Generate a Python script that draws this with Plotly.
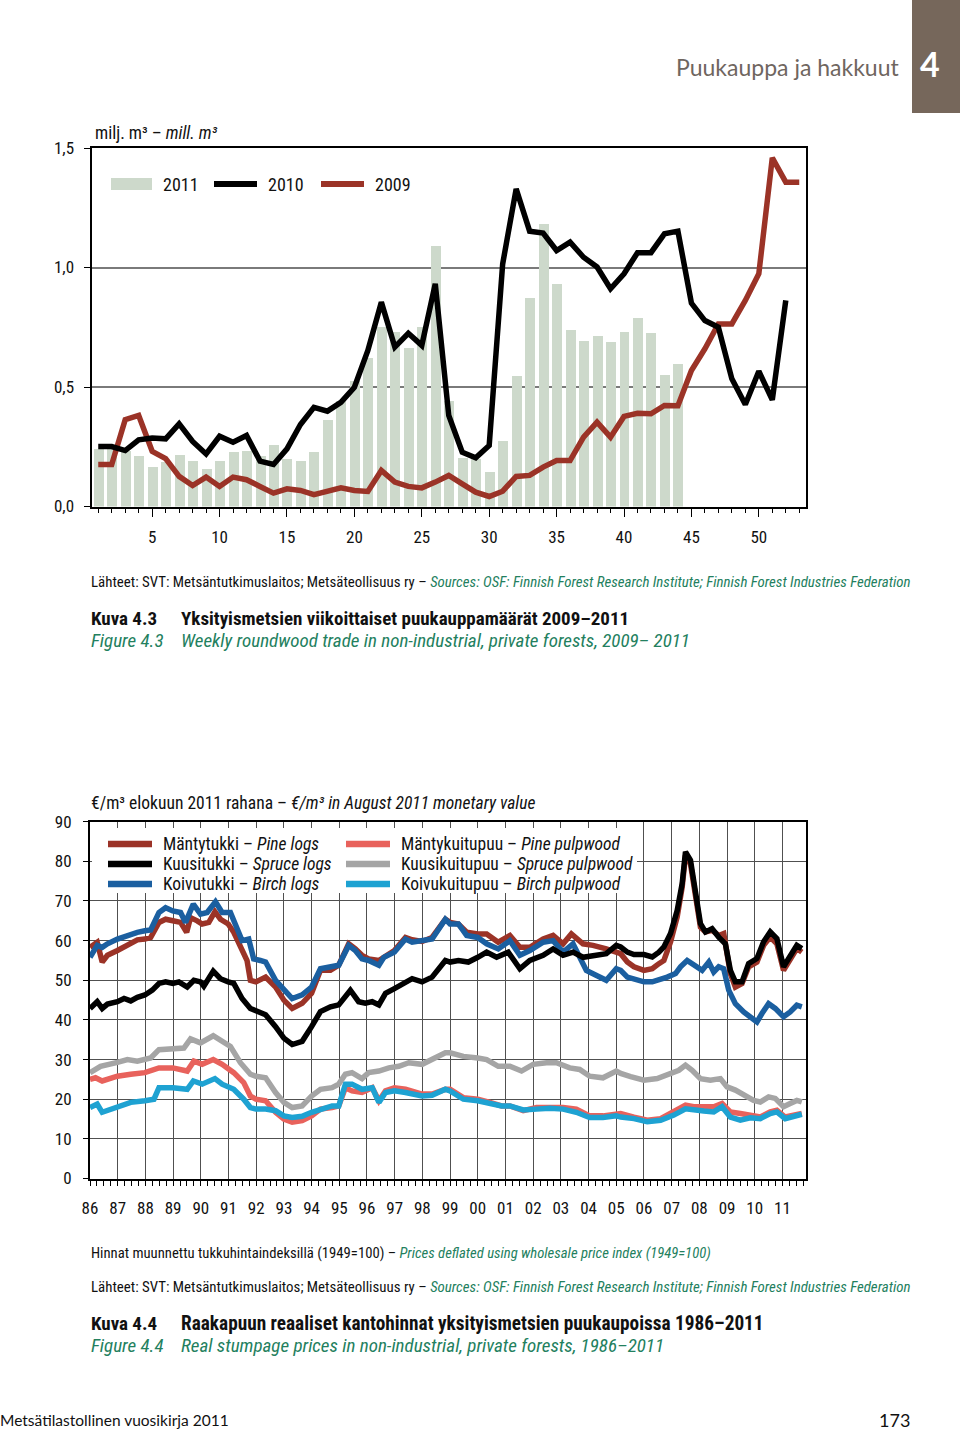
import plotly.graph_objects as go

W, H = 960, 1433


def PX(x):
    return x / W


def PY(y):
    return 1 - y / H


# ---------------- DATA: Figure 4.3 (weekly roundwood trade, mill. m3) ----------------
weeks_2011 = list(range(1, 45))
trade_2011 = [0.241, 0.240, 0.234, 0.210, 0.165, 0.185, 0.216, 0.190, 0.158, 0.192,
              0.227, 0.234, 0.213, 0.259, 0.198, 0.192, 0.226, 0.360, 0.440, 0.527,
              0.620, 0.753, 0.730, 0.662, 0.750, 1.089, 0.443, 0.202, 0.200, 0.144,
              0.276, 0.544, 0.872, 1.180, 0.932, 0.739, 0.692, 0.715, 0.688, 0.730,
              0.790, 0.725, 0.551, 0.597]

weeks_2010 = list(range(1, 53))
trade_2010 = [0.251, 0.251, 0.234, 0.279, 0.287, 0.283, 0.346, 0.272, 0.220, 0.294,
              0.269, 0.297, 0.190, 0.176, 0.241, 0.343, 0.415, 0.399, 0.436, 0.499,
              0.653, 0.855, 0.667, 0.725, 0.674, 0.932, 0.381, 0.227, 0.204, 0.255,
              1.015, 1.329, 1.152, 1.144, 1.071, 1.106, 1.043, 1.002, 0.911, 0.974,
              1.062, 1.062, 1.141, 1.152, 0.851, 0.778, 0.750, 0.534, 0.427, 0.566,
              0.446, 0.862]

weeks_2009 = list(range(1, 54))
trade_2009 = [0.176, 0.176, 0.363, 0.381, 0.231, 0.200, 0.126, 0.088, 0.123, 0.084,
              0.123, 0.112, 0.084, 0.056, 0.074, 0.067, 0.050, 0.063, 0.078, 0.067,
              0.063, 0.151, 0.102, 0.084, 0.078, 0.102, 0.130, 0.095, 0.060, 0.042,
              0.064, 0.126, 0.130, 0.165, 0.192, 0.192, 0.290, 0.353, 0.290, 0.377,
              0.390, 0.388, 0.423, 0.422, 0.569, 0.660, 0.764, 0.764, 0.862, 0.974,
              1.459, 1.357, 1.357]

top_xtick_vals = [5, 10, 15, 20, 25, 30, 35, 40, 45, 50]
top_ytick_vals = [0.0, 0.5, 1.0, 1.5]
top_ytick_text = ["0,0", "0,5", "1,0", "1,5"]

# ---------------- DATA: Figure 4.4 (real stumpage prices, EUR/m3) ----------------
pine_logs = [
    (1986.00, 58.3), (1986.26, 59.6), (1986.44, 54.6), (1986.63, 56.3), (1986.99, 57.5),
    (1987.35, 58.8), (1987.71, 60.2), (1987.98, 60.4), (1988.19, 60.8), (1988.49, 64.6),
    (1988.73, 65.4), (1988.99, 65.0), (1989.27, 64.6), (1989.49, 62.1), (1989.63, 65.8),
    (1989.87, 65.0), (1990.05, 64.2), (1990.29, 64.6), (1990.51, 67.3), (1990.71, 65.4),
    (1990.99, 64.2), (1991.19, 62.1), (1991.43, 58.3), (1991.67, 55.0), (1991.79, 50.0),
    (1991.99, 49.6), (1992.34, 50.8), (1992.70, 48.3), (1993.00, 45.0), (1993.30, 42.9),
    (1993.66, 44.2), (1994.00, 46.7), (1994.32, 52.5), (1994.68, 52.5), (1994.98, 53.8),
    (1995.34, 59.2), (1995.58, 57.9), (1995.82, 56.3), (1996.06, 55.4), (1996.43, 55.0),
    (1996.61, 55.8), (1996.99, 57.5), (1997.39, 60.8), (1997.63, 60.2), (1997.99, 59.8),
    (1998.35, 60.8), (1998.83, 65.4), (1999.00, 64.6), (1999.30, 64.2), (1999.60, 62.1),
    (2000.00, 61.7), (2000.32, 61.7), (2000.74, 59.6), (2001.16, 61.3), (2001.52, 58.3),
    (2001.88, 58.3), (2002.36, 60.4), (2002.72, 61.3), (2003.08, 59.2), (2003.38, 61.7),
    (2003.80, 59.2), (2004.16, 58.8), (2004.64, 57.9), (2005.00, 57.1), (2005.16, 56.7),
    (2005.40, 54.6), (2005.64, 53.4), (2006.00, 52.5), (2006.30, 52.9), (2006.54, 54.2),
    (2006.72, 55.0), (2006.96, 59.7), (2007.20, 66.0), (2007.38, 73.5), (2007.50, 81.5),
    (2007.68, 79.4), (2007.86, 71.8), (2008.04, 63.4), (2008.22, 62.2), (2008.46, 62.6),
    (2008.70, 61.3), (2008.88, 61.8), (2009.12, 51.7), (2009.30, 48.3), (2009.54, 49.2),
    (2009.78, 53.4), (2010.08, 54.6), (2010.32, 58.8), (2010.56, 60.9), (2010.80, 59.2),
    (2011.04, 52.5), (2011.28, 55.0), (2011.52, 58.0), (2011.70, 57.1)]

spruce_logs = [
    (1986.00, 42.9), (1986.26, 44.6), (1986.44, 42.9), (1986.63, 44.0), (1986.99, 44.6),
    (1987.23, 45.4), (1987.47, 44.8), (1987.71, 45.7), (1987.98, 46.3), (1988.25, 47.5),
    (1988.49, 49.2), (1988.73, 49.6), (1988.99, 49.2), (1989.21, 49.6), (1989.51, 48.3),
    (1989.75, 50.0), (1989.99, 49.6), (1990.11, 48.5), (1990.45, 52.3), (1990.71, 50.4),
    (1990.99, 49.6), (1991.19, 49.2), (1991.49, 45.4), (1991.79, 42.9), (1991.99, 42.3),
    (1992.34, 41.3), (1992.70, 38.3), (1993.00, 35.4), (1993.30, 33.8), (1993.66, 34.6),
    (1994.00, 38.3), (1994.32, 42.1), (1994.68, 43.3), (1994.98, 43.8), (1995.40, 47.5),
    (1995.70, 44.6), (1995.94, 44.2), (1996.19, 44.6), (1996.43, 43.8), (1996.67, 46.7),
    (1996.99, 47.9), (1997.39, 49.6), (1997.63, 50.4), (1997.99, 49.6), (1998.35, 50.8),
    (1998.83, 55.0), (1999.00, 54.6), (1999.30, 55.0), (1999.66, 54.6), (2000.00, 55.8),
    (2000.32, 57.1), (2000.68, 55.8), (2001.10, 57.1), (2001.52, 52.9), (2001.88, 55.0),
    (2002.36, 56.3), (2002.72, 57.9), (2003.08, 56.3), (2003.44, 57.1), (2003.80, 55.8),
    (2004.28, 56.3), (2004.64, 56.7), (2005.00, 58.8), (2005.16, 58.4), (2005.40, 57.1),
    (2005.64, 56.5), (2006.00, 56.5), (2006.30, 55.9), (2006.54, 57.1), (2006.72, 58.4),
    (2006.96, 61.8), (2007.20, 67.6), (2007.38, 74.4), (2007.50, 82.4), (2007.68, 80.3),
    (2007.86, 72.7), (2008.04, 64.3), (2008.22, 62.2), (2008.46, 63.0), (2008.70, 60.9),
    (2008.94, 59.2), (2009.12, 52.5), (2009.30, 49.6), (2009.54, 49.6), (2009.78, 54.2),
    (2010.08, 55.5), (2010.32, 59.7), (2010.56, 62.2), (2010.80, 60.5), (2011.04, 53.4),
    (2011.28, 55.9), (2011.52, 58.8), (2011.70, 58.0)]

birch_logs = [
    (1986.00, 55.8), (1986.26, 58.8), (1986.44, 58.3), (1986.63, 59.2), (1986.99, 60.4),
    (1987.35, 61.3), (1987.71, 62.1), (1987.98, 62.5), (1988.19, 62.7), (1988.49, 67.1),
    (1988.73, 68.3), (1988.99, 67.5), (1989.27, 67.1), (1989.45, 64.6), (1989.73, 69.2),
    (1989.99, 66.7), (1990.23, 67.1), (1990.53, 69.8), (1990.77, 67.1), (1991.07, 67.1),
    (1991.25, 64.2), (1991.49, 60.0), (1991.73, 60.4), (1991.91, 55.4), (1992.15, 55.0),
    (1992.34, 54.6), (1992.70, 50.0), (1993.00, 47.5), (1993.30, 45.4), (1993.66, 46.3),
    (1994.00, 48.3), (1994.32, 52.9), (1994.68, 53.3), (1994.98, 53.8), (1995.34, 58.8),
    (1995.58, 57.5), (1995.82, 55.4), (1996.06, 55.0), (1996.43, 53.8), (1996.61, 55.8),
    (1996.99, 57.1), (1997.39, 60.4), (1997.63, 59.6), (1997.99, 60.0), (1998.35, 60.4),
    (1998.83, 65.4), (1999.00, 64.2), (1999.30, 64.2), (1999.60, 61.3), (2000.00, 60.8),
    (2000.32, 59.2), (2000.74, 57.9), (2001.16, 60.0), (2001.52, 56.3), (2001.88, 57.5),
    (2002.36, 59.6), (2002.72, 60.0), (2003.08, 57.1), (2003.44, 59.2), (2003.92, 52.5),
    (2004.28, 51.3), (2004.64, 50.0), (2005.00, 52.9), (2005.16, 52.5), (2005.40, 50.8),
    (2005.64, 50.4), (2006.00, 49.6), (2006.30, 49.6), (2006.54, 50.0), (2006.84, 50.8),
    (2007.14, 51.7), (2007.32, 53.4), (2007.56, 55.0), (2007.80, 53.8), (2008.10, 52.5),
    (2008.34, 54.6), (2008.52, 52.1), (2008.70, 53.4), (2008.88, 52.9), (2009.06, 47.5),
    (2009.30, 44.1), (2009.60, 42.0), (2009.84, 40.8), (2010.08, 39.5), (2010.26, 41.6),
    (2010.50, 44.1), (2010.74, 42.9), (2011.04, 40.8), (2011.28, 42.0), (2011.52, 43.7),
    (2011.70, 43.3)]

pine_pulpwood = [
    (1986.00, 25.0), (1986.20, 25.4), (1986.44, 24.6), (1986.99, 25.8), (1987.47, 26.3),
    (1987.98, 26.7), (1988.49, 27.9), (1988.99, 27.9), (1989.51, 27.1), (1989.75, 29.6),
    (1990.05, 28.8), (1990.45, 30.0), (1990.77, 28.8), (1991.19, 26.7), (1991.55, 24.2),
    (1991.79, 20.8), (1991.99, 20.0), (1992.34, 19.6), (1992.70, 16.7), (1993.00, 15.0),
    (1993.30, 14.2), (1993.66, 14.6), (1994.00, 15.8), (1994.32, 17.5), (1994.74, 17.9),
    (1994.98, 18.3), (1995.22, 22.9), (1995.46, 22.1), (1995.82, 21.7), (1996.19, 22.9),
    (1996.43, 19.6), (1996.67, 22.1), (1996.99, 22.9), (1997.39, 22.5), (1997.99, 21.3),
    (1998.35, 21.3), (1998.83, 22.5), (1999.00, 22.5), (1999.48, 20.4), (2000.00, 20.0),
    (2000.44, 19.2), (2000.86, 18.3), (2001.16, 18.3), (2001.64, 17.1), (2002.12, 17.9),
    (2002.60, 17.9), (2003.08, 17.9), (2003.56, 17.5), (2004.04, 15.8), (2004.52, 15.8),
    (2005.00, 16.3), (2005.16, 16.4), (2005.64, 15.5), (2006.12, 14.7), (2006.60, 15.1),
    (2007.08, 16.8), (2007.50, 18.5), (2007.80, 18.1), (2008.16, 18.1), (2008.52, 18.1),
    (2008.82, 18.9), (2009.12, 16.8), (2009.48, 16.4), (2009.84, 16.0), (2010.20, 15.5),
    (2010.56, 16.8), (2010.80, 17.2), (2011.10, 15.5), (2011.40, 16.0), (2011.70, 16.4)]

spruce_pulpwood = [
    (1986.00, 26.7), (1986.38, 28.3), (1986.99, 29.3), (1987.35, 30.0), (1987.71, 29.6),
    (1987.98, 30.0), (1988.19, 30.4), (1988.49, 32.5), (1988.99, 32.9), (1989.39, 32.9),
    (1989.63, 35.2), (1989.99, 34.2), (1990.45, 36.0), (1990.71, 35.0), (1991.07, 33.3),
    (1991.43, 29.2), (1991.79, 26.3), (1991.99, 25.8), (1992.34, 25.4), (1992.70, 21.7),
    (1993.00, 19.2), (1993.30, 17.9), (1993.66, 18.3), (1994.00, 20.8), (1994.32, 22.5),
    (1994.74, 22.9), (1994.98, 23.8), (1995.22, 26.3), (1995.46, 26.7), (1995.82, 25.2),
    (1996.06, 26.7), (1996.43, 27.1), (1996.79, 27.9), (1997.15, 28.3), (1997.51, 29.2),
    (1997.99, 28.8), (1998.35, 30.0), (1998.83, 31.7), (1999.00, 31.7), (1999.48, 30.8),
    (2000.00, 30.4), (2000.32, 30.0), (2000.74, 28.3), (2001.16, 28.3), (2001.58, 27.1),
    (2002.00, 28.8), (2002.48, 29.2), (2002.84, 29.2), (2003.32, 27.9), (2003.68, 27.5),
    (2004.04, 25.8), (2004.52, 25.4), (2005.00, 27.1), (2005.16, 26.5), (2005.52, 25.7),
    (2006.00, 24.8), (2006.48, 25.2), (2006.96, 26.5), (2007.26, 27.3), (2007.50, 28.6),
    (2007.74, 27.3), (2008.04, 25.2), (2008.40, 24.8), (2008.76, 25.2), (2009.00, 23.1),
    (2009.30, 22.3), (2009.60, 21.0), (2009.96, 19.7), (2010.20, 19.3), (2010.50, 20.6),
    (2010.74, 20.2), (2011.04, 18.1), (2011.28, 18.9), (2011.52, 19.7), (2011.70, 19.3)]

birch_pulpwood = [
    (1986.00, 17.9), (1986.26, 18.8), (1986.44, 16.7), (1986.99, 17.9), (1987.47, 19.2),
    (1987.98, 19.6), (1988.31, 20.0), (1988.49, 22.9), (1988.99, 22.9), (1989.51, 22.5),
    (1989.73, 24.6), (1990.05, 23.8), (1990.51, 25.2), (1990.77, 23.8), (1991.19, 22.5),
    (1991.55, 20.0), (1991.79, 17.9), (1991.99, 17.5), (1992.34, 17.5), (1992.70, 17.1),
    (1993.00, 15.8), (1993.30, 15.4), (1993.66, 15.7), (1994.00, 16.7), (1994.32, 17.5),
    (1994.74, 18.3), (1994.98, 18.3), (1995.22, 23.8), (1995.46, 23.8), (1995.82, 22.5),
    (1996.19, 22.9), (1996.43, 19.2), (1996.67, 21.7), (1996.99, 22.1), (1997.39, 21.7),
    (1997.99, 20.8), (1998.35, 21.0), (1998.83, 22.5), (1999.00, 22.1), (1999.48, 20.0),
    (2000.00, 19.6), (2000.44, 19.0), (2000.86, 18.3), (2001.16, 18.3), (2001.64, 17.3),
    (2002.12, 17.5), (2002.60, 17.7), (2003.08, 17.5), (2003.56, 16.7), (2004.04, 15.4),
    (2004.52, 15.4), (2005.00, 15.8), (2005.16, 15.5), (2005.64, 15.1), (2006.12, 14.3),
    (2006.60, 14.7), (2007.08, 16.0), (2007.50, 17.6), (2007.80, 17.2), (2008.16, 17.0),
    (2008.52, 16.8), (2008.82, 18.1), (2009.12, 15.5), (2009.48, 14.7), (2009.84, 15.3),
    (2010.20, 15.1), (2010.56, 16.4), (2010.80, 16.8), (2011.10, 15.1), (2011.40, 15.7),
    (2011.70, 16.2)]

year_ticks = list(range(1986, 2012))
year_labels = ["%02d" % (y % 100) for y in year_ticks]
price_ticks = list(range(0, 100, 10))

# ---------------- STYLE ----------------
NARROW = "Liberation Sans Narrow, Arial Narrow, Roboto Condensed, sans-serif"
GILL = "Lato, Open Sans, sans-serif"
GREEN = "#23805e"

C_BAR = "#cdd9cb"
C_2010 = "#000000"
C_2009 = "#9b3327"

C_PINE_LOG = "#9b3327"
C_SPRUCE_LOG = "#000000"
C_BIRCH_LOG = "#1b5fa0"
C_PINE_PULP = "#e8625c"
C_SPRUCE_PULP = "#a5a5a5"
C_BIRCH_PULP = "#1ea2d2"

fig = go.Figure()

# Top chart
fig.add_trace(go.Bar(x=weeks_2011, y=trade_2011, marker=dict(color=C_BAR, line=dict(width=0)),
                     width=0.74, xaxis="x", yaxis="y", showlegend=False))
fig.add_trace(go.Scatter(x=weeks_2009, y=trade_2009, mode="lines",
                         line=dict(color=C_2009, width=5.5), xaxis="x", yaxis="y", showlegend=False))
fig.add_trace(go.Scatter(x=weeks_2010, y=trade_2010, mode="lines",
                         line=dict(color=C_2010, width=5.5), xaxis="x", yaxis="y", showlegend=False))


def unzip(pairs):
    return [p[0] for p in pairs], [p[1] for p in pairs]


bottom_series = [
    (pine_pulpwood, C_PINE_PULP),
    (birch_pulpwood, C_BIRCH_PULP),
    (spruce_pulpwood, C_SPRUCE_PULP),
    (pine_logs, C_PINE_LOG),
    (birch_logs, C_BIRCH_LOG),
    (spruce_logs, C_SPRUCE_LOG),
]
for pairs, col in bottom_series:
    xs, ys = unzip(pairs)
    fig.add_trace(go.Scatter(x=xs, y=ys, mode="lines", line=dict(color=col, width=5.5),
                             xaxis="x2", yaxis="y2", showlegend=False))

axis_font = dict(family=NARROW, size=17, color="#111")

fig.update_layout(
    width=W, height=H,
    autosize=False,
    margin=dict(l=0, r=0, t=0, b=0, pad=0, autoexpand=False),
    paper_bgcolor="white", plot_bgcolor="white",
    showlegend=False,
    bargap=0,
    xaxis=dict(domain=[PX(91.5), PX(806)], range=[0.5, 53.5], anchor="y", automargin=False,
               tickmode="array", tickvals=top_xtick_vals, ticks="outside", ticklen=8,
               tickwidth=1.3, tickcolor="black", showgrid=False, zeroline=False,
               showline=True, linecolor="black", linewidth=2, mirror=True,
               tickfont=axis_font, ticklabelstandoff=6,
               minor=dict(tick0=0, dtick=1, ticks="outside", ticklen=4, tickwidth=1.2,
                          tickcolor="black", showgrid=False)),
    yaxis=dict(domain=[PY(506.5), PY(148)], range=[0, 1.5], anchor="x", automargin=False,
               tickmode="array", tickvals=top_ytick_vals, ticktext=top_ytick_text,
               ticks="outside", ticklen=6, tickwidth=1.3, tickcolor="black",
               showgrid=True, gridcolor="#7a7a7a", gridwidth=1.5, zeroline=False,
               showline=True, linecolor="black", linewidth=2, mirror=True,
               tickfont=axis_font, ticklabelstandoff=6),
    xaxis2=dict(domain=[PX(90), PX(805.7)], range=[1986, 2011.84], anchor="y2", automargin=False,
                tickmode="array", tickvals=year_ticks, ticktext=year_labels,
                ticks="outside", ticklen=5, tickwidth=1.2, tickcolor="black",
                showgrid=True, gridcolor="#505050", gridwidth=1, zeroline=False,
                showline=True, linecolor="black", linewidth=2, mirror=True,
                tickfont=axis_font, ticklabelstandoff=8,
                minor=dict(tick0=1986, dtick=0.25, ticks="outside", ticklen=5, tickwidth=1.2,
                           tickcolor="black", showgrid=False)),
    yaxis2=dict(domain=[PY(1178.5), PY(821.7)], range=[0, 90], anchor="x2", automargin=False,
                tickmode="array", tickvals=price_ticks,
                ticks="outside", ticklen=5, tickwidth=1.2, tickcolor="black",
                showgrid=True, gridcolor="#505050", gridwidth=1, zeroline=False,
                showline=True, linecolor="black", linewidth=2, mirror=True,
                tickfont=axis_font, ticklabelstandoff=8),
)

shapes = []
annotations = []


def text(x, y, s, size=17, color="#111", family=NARROW, xanchor="left"):
    annotations.append(dict(x=PX(x), y=PY(y), xref="paper", yref="paper", text=s,
                            showarrow=False, xanchor=xanchor, yanchor="middle",
                            font=dict(family=family, size=size, color=color)))


def hline(x0, x1, y, color, width):
    shapes.append(dict(type="line", xref="paper", yref="paper", x0=PX(x0), x1=PX(x1),
                       y0=PY(y), y1=PY(y), line=dict(color=color, width=width)))


# Header
shapes.append(dict(type="rect", xref="paper", yref="paper", x0=PX(912), x1=PX(960),
                   y0=PY(113), y1=PY(0), fillcolor="#76675b", line=dict(width=0)))
text(930, 63, "<b>4</b>", size=34, color="white", family=GILL, xanchor="center")
text(902, 67, "Puukauppa ja hakkuut", size=23, color="#6f665f", family=GILL, xanchor="right")

# Top chart texts & legend
text(93, 133, "milj. m³ – <i>mill. m³</i>", size=17.5)
shapes.append(dict(type="rect", xref="paper", yref="paper", x0=PX(111), x1=PX(152),
                   y0=PY(190), y1=PY(178), fillcolor=C_BAR, line=dict(width=0)))
text(161, 184, "2011", size=18)
hline(214, 257, 184, C_2010, 6)
text(266, 184, "2010", size=18)
hline(321, 364, 184, C_2009, 6)
text(373, 184, "2009", size=18)

SRC = ("Lähteet: SVT: Metsäntutkimuslaitos; Metsäteollisuus ry – "
       "<span style='color:%s'><i>Sources: OSF: Finnish Forest Research Institute; "
       "Finnish Forest Industries Federation</i></span>" % GREEN)
text(89, 582, SRC, size=14.9)
text(89, 618, "<b>Kuva 4.3</b>", size=19)
text(179, 618, "<b>Yksityismetsien viikoittaiset puukauppamäärät 2009–2011</b>", size=19)
text(89, 640, "<i>Figure 4.3</i>", size=19, color=GREEN)
text(179, 640, "<i>Weekly roundwood trade in non-industrial, private forests, 2009– 2011</i>",
     size=19, color=GREEN)

# Bottom chart texts & legend
text(89, 803, "€/m³ elokuun 2011 rahana – <i>€/m³ in August 2011 monetary value</i>", size=17.5)
shapes.append(dict(type="rect", xref="paper", yref="paper", x0=PX(92), x1=PX(637),
                   y0=PY(893), y1=PY(828), fillcolor="white", line=dict(width=0)))
legend_rows = [
    (108, 152, 161, 844, C_PINE_LOG, "Mäntytukki – <i>Pine logs</i>"),
    (108, 152, 161, 864, C_SPRUCE_LOG, "Kuusitukki – <i>Spruce logs</i>"),
    (108, 152, 161, 884, C_BIRCH_LOG, "Koivutukki – <i>Birch logs</i>"),
    (346, 390, 399, 844, C_PINE_PULP, "Mäntykuitupuu – <i>Pine pulpwood</i>"),
    (346, 390, 399, 864, C_SPRUCE_PULP, "Kuusikuitupuu – <i>Spruce pulpwood</i>"),
    (346, 390, 399, 884, C_BIRCH_PULP, "Koivukuitupuu – <i>Birch pulpwood</i>"),
]
for x0, x1, tx, y, col, label in legend_rows:
    hline(x0, x1, y, col, 6.5)
    text(tx, y, label, size=17.5)

text(89, 1253, "Hinnat muunnettu tukkuhintaindeksillä (1949=100) – "
     "<span style='color:%s'><i>Prices deflated using wholesale price index (1949=100)</i></span>"
     % GREEN, size=14.7)
text(89, 1287, SRC, size=14.9)
text(89, 1323, "<b>Kuva 4.4</b>", size=19)
text(179, 1323, "<b>Raakapuun reaaliset kantohinnat yksityismetsien puukaupoissa 1986–2011</b>",
     size=19.3)
text(89, 1345, "<i>Figure 4.4</i>", size=19, color=GREEN)
text(179, 1345, "<i>Real stumpage prices in non-industrial, private forests, 1986–2011</i>",
     size=19, color=GREEN)

# Footer
text(-2, 1420, "Metsätilastollinen vuosikirja 2011", size=15.5, color="#111", family=GILL)
text(912, 1420, "173", size=18, color="#111", family=GILL, xanchor="right")

fig.update_layout(shapes=shapes, annotations=annotations)
fig.write_html(
    "out.html",
    config={"responsive": False, "displayModeBar": False},
    post_script=("document.body.style.margin='0';document.body.style.padding='0';"
                 "document.documentElement.style.overflow='hidden';"),
)
